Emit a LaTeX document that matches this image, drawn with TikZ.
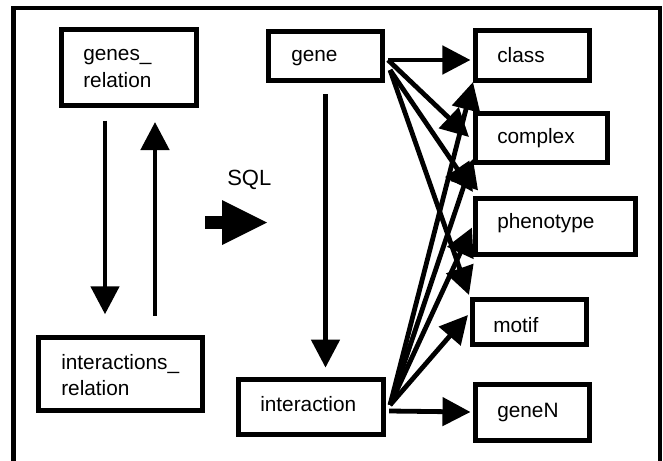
\documentclass[tikz,border=0pt]{standalone}
\usepackage{fontspec}
\setmainfont{Liberation Sans}
\usetikzlibrary{arrows.meta,calc}
\begin{document}
\begin{tikzpicture}[x=0.75pt,y=-0.75pt,
  box/.style={draw,line width=3.8pt,inner sep=0pt,anchor=center},
  lbl/.style={font=\fontsize{15.6pt}{19.5pt}\selectfont,inner sep=0pt,anchor=base west,align=left},
  arr/.style={line width=3.6pt,-{Triangle[length=21pt,width=21pt]}},
  frame/.style={line width=3.4pt}]
\useasboundingbox (0,0) rectangle (663,460);
\clip (0,0) rectangle (663,460);
% outer frame
\draw[frame] (13.5,470) -- (13.5,8) -- (660,8) -- (660,470);
% boxes
\node[box,minimum width=101.25pt,minimum height=57pt] (genesrel) at (129,67.5) {};
\node[box,minimum width=123pt,minimum height=54.75pt] (intrel) at (120.5,374) {};
\node[box,minimum width=85.5pt,minimum height=36.75pt] (gene) at (325.5,56) {};
\node[box,minimum width=108.75pt,minimum height=41.25pt] (interaction) at (311,407) {};
\node[box,minimum width=85.5pt,minimum height=37.5pt] (class) at (532.5,55.5) {};
\node[box,minimum width=99pt,minimum height=36.75pt] (complex) at (541.5,138) {};
\node[box,minimum width=120pt,minimum height=42pt] (phenotype) at (555.5,226.5) {};
\node[box,minimum width=85.5pt,minimum height=33.75pt] (motif) at (529.5,322) {};
\node[box,minimum width=85.5pt,minimum height=42pt] (geneN) at (532.5,412.5) {};
% labels
\node[lbl,font=\fontsize{15.6pt}{20pt}\selectfont] (tgenesrel) at (83,87) {genes\_\\relation};
\node[lbl,font=\fontsize{15.6pt}{19pt}\selectfont] (tintrel) at (61,395) {interactions\_\\relation};
\node[lbl] (tgene) at (291,62) {gene};
\node[lbl] (tinteraction) at (260,411) {interaction};
\node[lbl] (tclass) at (497,63) {class};
\node[lbl] (tcomplex) at (497,143) {complex};
\node[lbl] (tphenotype) at (497,228) {phenotype};
\node[lbl] (tmotif) at (493,332) {motif};
\node[lbl] (tgeneN) at (497,417) {geneN};
\node[lbl,font=\fontsize{16.5pt}{19.5pt}\selectfont] (tsql) at (227,185) {SQL};
% SQL fat arrow
\fill (205,216) rectangle (223,229);
\fill (222,200) -- (267,222.5) -- (222,245) -- cycle;
% vertical arrows on the left
\coordinate (xa) at (105,0);
\coordinate (xb) at (155,0);
\coordinate (xc) at (325.5,0);
\draw[arr,shorten <=9.5pt,shorten >=15.5pt] (genesrel.south -| xa) -- (intrel.north -| xa);
\draw[arr,shorten <=14.5pt,shorten >=10.5pt] (intrel.north -| xb) -- (genesrel.south -| xb);
\draw[arr,shorten <=8.5pt,shorten >=7pt] (gene.south -| xc) -- (interaction.north -| xc);
% fan from gene
\coordinate (gs) at ($(gene.east)+(3,4)$);
\coordinate (gs2) at ($(gene.east)+(5,14)$);
\draw[arr] (gs) -- ($(class.west)+(-2.5,4.5)$);
\draw[arr] (gs) -- ($(complex.west)+(-4,-1)$);
\draw[arr] (gs2) -- ($(phenotype.north west)+(0,-4)$);
\draw[arr] (gs2) -- ($(motif.north west)+(-1,-2)$);
% fan from interaction
\coordinate (is) at ($(interaction.east)+(4,-2)$);
\draw[arr] (is) -- ($(class.south west)+(0,-1)$);
\draw[arr] (is) -- ($(complex.south west)+(0,-6)$);
\draw[arr] (is) -- ($(phenotype.west)+(-1,1)$);
\draw[arr] (is) -- ($(motif.west)+(-2,-7)$);
\draw[arr] ($(interaction.east)+(3,4)$) -- ($(geneN.west)+(-2.5,-0.5)$);
\end{tikzpicture}
\end{document}
